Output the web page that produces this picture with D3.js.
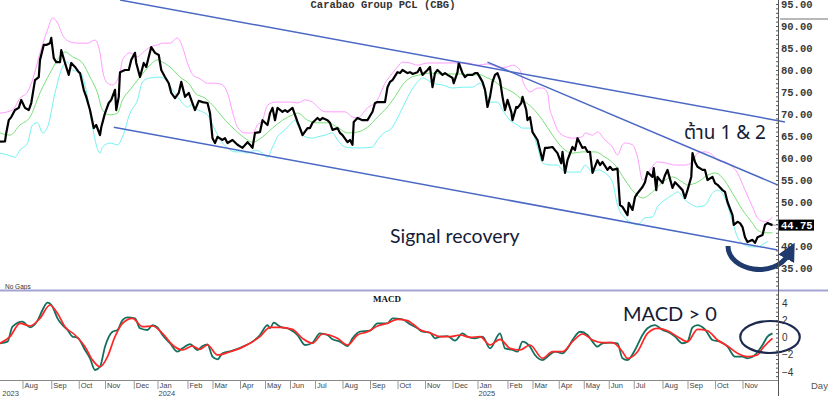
<!DOCTYPE html>
<html><head><meta charset="utf-8">
<script src="https://cdn.jsdelivr.net/npm/d3@7"></script>
<style>body{margin:0;background:#fff}svg{display:block}</style>
</head><body>
<svg id="c" width="828" height="396"></svg>
<script>
// ---------- DATA (x = trading session index, y = value) ----------
const chartTitle = "Carabao Group PCL (CBG)";
const lastClose = 44.75;
const closeSeries = [[0,63.7],[4,63.8],[5,65.7],[7,68.6],[9,69.3],[12,70.9],[15,71.4],[17,73.2],[20,71.4],[23,70.9],[25,72.5],[28,77.7],[31,78.4],[32,82.3],[35,85.7],[37,85.7],[40,86.1],[41,87.3],[43,82.7],[45,81.8],[48,81.8],[49,84.5],[52,81.6],[55,78.9],[57,81.6],[60,80.7],[63,79.5],[64,79.3],[67,75.5],[69,73.9],[72,70.9],[75,66.8],[77,67.5],[80,65.2],[81,67],[84,70.2],[87,72.5],[89,73.2],[92,75.5],[93,70.9],[95,73.9],[96,79.5],[100,80],[103,80],[105,82.3],[108,83.9],[109,81.6],[112,78.4],[115,81.6],[117,80.7],[119,83],[121,85.2],[124,83.9],[127,83.4],[129,80],[132,78.4],[135,77],[137,74.8],[140,73.6],[143,74.8],[145,77.3],[148,73.9],[151,74.8],[153,73.2],[156,70.9],[159,73],[162,72.7],[166,72.5],[168,70.2],[170,64.5],[172,63.4],[174,64.8],[178,64.1],[180,64.5],[182,63.4],[186,64.1],[190,63],[194,62.3],[198,63.6],[200,63],[202,62.3],[204,65.7],[208,65.9],[210,68.6],[214,67.5],[216,70.2],[218,71.4],[220,68.6],[222,71.4],[226,70.5],[228,70.9],[230,70.5],[234,71.4],[236,69.8],[238,68.2],[240,66.8],[242,65.2],[246,66.8],[248,66.8],[250,68],[254,69.1],[256,68.6],[258,69.1],[262,68.6],[264,68],[266,66.4],[270,66.8],[272,65.7],[274,65.2],[278,63.6],[280,64.1],[282,63],[283,68.2],[286,69.1],[290,68.6],[292,68.6],[294,68.6],[298,70.5],[300,72.5],[302,72.7],[306,72.7],[308,72.7],[310,76.1],[312,77.3],[314,77.7],[318,79.5],[320,79.3],[322,80],[326,79.3],[328,79.5],[330,79.1],[334,79.5],[336,80.5],[338,78.9],[342,80],[344,80.7],[346,76.1],[348,79.3],[350,80],[354,78.9],[356,79.3],[358,78.9],[362,78.2],[363,77],[366,79.5],[367,81.6],[370,79.3],[372,78.4],[374,78.9],[378,78.9],[380,79.3],[382,79.3],[386,77.3],[388,75.5],[390,71.6],[392,73.9],[394,77.3],[396,78.9],[398,79.3],[400,77.7],[402,73.9],[404,70.9],[406,73.2],[409,70.5],[410,68.6],[413,71.6],[414,71.4],[417,72.5],[418,73.9],[421,70.9],[422,68.6],[424,69.3],[426,65.9],[430,64.1],[432,61.8],[434,59.5],[436,62.3],[438,62.3],[442,62.5],[444,61.8],[446,61.1],[449,58.8],[450,61.4],[452,56.6],[454,59.5],[458,62.5],[460,61.8],[462,64.5],[466,62.3],[468,62.5],[470,61.4],[472,61.4],[474,56.6],[478,59.5],[480,58.4],[482,59.1],[486,57.3],[488,58],[490,57.3],[494,57.6],[496,49.3],[498,48.9],[502,47],[503,49.8],[506,48.2],[508,51.1],[510,52],[514,53.4],[516,54.5],[518,56.8],[522,55.7],[523,57.7],[525,52.7],[526,55.7],[530,54.3],[532,56.1],[534,57.3],[538,53.2],[540,54.5],[542,53.9],[546,52.7],[548,50.9],[550,52.7],[553,55.7],[554,61.1],[556,59.1],[558,58],[562,57.3],[564,57.3],[566,55],[570,55.7],[572,54.3],[574,53.9],[578,52.7],[580,52.3],[582,50],[586,47],[587,44.8],[590,45.5],[592,45.2],[594,44.3],[596,42],[598,40.9],[602,41.4],[604,40.7],[606,42],[610,42.5],[612,44.8],[614,45.2],[618,44.75]];

const upperBand = [[0,70.2],[10,70.9],[16,73.6],[22,75],[26,77.7],[32,83.9],[38,89.1],[42,91.8],[46,90.7],[50,88],[56,86.4],[62,86.1],[70,86.1],[76,86.8],[80,83.9],[82,80],[86,77],[90,76.6],[96,79.3],[98,82.3],[104,83.9],[110,83],[114,83.9],[120,85.2],[126,85.7],[130,86.1],[136,86.1],[142,87.3],[146,85.2],[150,81.6],[154,79],[160,78],[166,77],[172,77],[178,76.6],[182,74.8],[186,70.5],[190,67],[196,65.7],[202,65.7],[206,67.5],[210,68.6],[214,72],[220,72.7],[228,72.7],[234,72.7],[238,72.5],[244,73.2],[250,72.7],[254,71.6],[260,70.5],[268,70.5],[276,70.5],[282,69.3],[286,69.1],[294,71.4],[302,73.2],[308,77],[314,79.3],[318,80.7],[322,81.8],[328,81.6],[334,81.1],[342,81.6],[350,81.6],[358,81.6],[366,81.6],[374,81.6],[382,81.1],[390,81.4],[394,81.1],[400,80.5],[406,80.7],[410,81.1],[416,80],[418,77.7],[422,75.5],[424,75],[430,75.9],[434,75.9],[438,74.8],[440,70.9],[442,69.3],[446,66.4],[450,65.2],[458,64.5],[466,64.8],[468,65.7],[474,65.2],[478,65.9],[484,64.1],[490,62.5],[494,60.7],[498,63],[500,63.4],[506,63],[510,60.2],[514,55],[520,57.3],[526,59.1],[532,58.9],[540,58.4],[548,58.4],[554,59.1],[558,61.1],[564,61.4],[570,60.7],[574,59.5],[580,59.1],[586,58],[590,56.6],[596,52.7],[602,48.9],[606,46.4],[612,45.5],[618,46.6]];

const middleBand = [[0,65.7],[8,65.2],[16,67.5],[24,69.3],[32,74.8],[40,79.3],[46,82.3],[52,84.1],[58,83],[66,81.6],[72,78.4],[78,74.8],[82,70.9],[88,69.8],[94,70.2],[98,73.2],[104,75.5],[112,78.4],[120,81.1],[126,82.3],[130,81.8],[136,80.7],[144,78.4],[152,76.6],[156,74.8],[164,73.6],[172,71.4],[180,68.6],[188,66.4],[196,64.5],[202,63.6],[210,64.8],[218,66.8],[226,68.6],[234,69.8],[238,70.2],[246,68.6],[254,68],[262,68],[270,67],[278,65.7],[286,65.9],[294,67],[302,69.3],[310,71.6],[318,74.8],[322,76.6],[328,78.2],[336,78.9],[344,79.3],[352,79.1],[360,79.1],[368,79.1],[376,78.9],[384,78.9],[390,78.2],[394,77.7],[402,76.1],[410,75],[418,73.2],[426,71.4],[434,68.6],[442,65.2],[450,62.3],[458,61.1],[466,61.4],[476,61.4],[484,60.2],[492,58.4],[500,55],[508,52],[514,50.9],[522,52.3],[530,54.5],[538,55.7],[546,54.5],[550,53.9],[558,54.5],[566,56.1],[572,56.6],[578,55.5],[586,52],[594,48.2],[602,45.2],[606,43.6],[612,43],[618,43]];

const lowerBand = [[0,61.1],[6,60.7],[12,60.2],[16,61.8],[22,63.4],[26,67.5],[30,68],[34,65.7],[38,67],[44,74.8],[50,80.7],[54,81.8],[58,80],[64,79.5],[70,73.9],[74,67],[80,61.1],[82,62.5],[88,63.4],[94,63],[98,64.8],[104,70.2],[110,73.2],[114,77.3],[120,78.2],[128,78.4],[134,77.3],[138,75.5],[144,73.2],[150,71.6],[154,72.2],[156,71.4],[162,70.5],[166,69.8],[172,66.4],[178,63.4],[182,62.3],[188,61.4],[194,61.4],[198,61.1],[204,61.8],[210,61.1],[214,60.2],[218,62.5],[222,64.8],[228,66.4],[234,68.2],[236,68.6],[238,67.5],[244,64.8],[250,64.5],[254,64.8],[260,65.2],[266,65.7],[270,64.1],[276,62.5],[282,62.3],[290,62.3],[298,62.5],[302,64.1],[308,65.9],[312,66.4],[318,69.1],[322,71.4],[328,74.8],[334,77.3],[338,78.2],[346,77],[354,76.6],[362,75.9],[370,76.1],[378,76.1],[384,77],[388,75.5],[392,72.7],[398,72.7],[402,70.9],[408,68.6],[414,67.5],[418,66.8],[424,66.8],[430,62.5],[434,58.9],[440,58.4],[446,58.4],[450,57.3],[456,56.8],[464,56.8],[468,58.4],[474,56.8],[478,57.3],[484,56.6],[490,54.5],[494,49.3],[500,46.4],[506,45.2],[510,44.8],[516,46.4],[522,46.6],[526,48.9],[532,50.5],[538,51.6],[542,52.3],[548,50.5],[554,49.3],[558,48.9],[564,49.3],[570,52],[574,52.7],[580,50.9],[586,45.5],[590,42],[596,40.2],[602,39.8],[606,39.8],[612,40.7],[614,41]];

const macdLine = [[0,-0.67],[6,-0.48],[10,1.26],[18,1.84],[24,1.18],[30,1.96],[34,3.2],[38,4.05],[42,3.58],[46,2.23],[50,1.45],[54,0.87],[58,0.1],[62,-0.02],[68,-1.45],[72,-2.42],[76,-3.78],[80,-3.4],[84,-1.07],[90,0.67],[94,0.87],[98,2.03],[102,2.34],[108,2.23],[112,1.07],[118,0.87],[122,1.45],[126,1.18],[130,0.29],[136,-0.67],[142,-1.65],[146,-1.26],[152,-0.76],[158,-1.45],[162,-0.99],[166,-0.79],[170,-2.23],[174,-2.54],[178,-1.84],[186,-1.53],[194,-1.07],[202,-0.48],[208,0.29],[214,1.45],[216,1.07],[219,1.72],[224,1.26],[232,0.95],[238,0.29],[244,-0.87],[250,-0.6],[256,0.48],[262,0.29],[266,-0.21],[272,-0.48],[278,-0.99],[282,-0.1],[288,0.67],[296,0.79],[302,1.65],[310,1.65],[314,2.23],[322,2.11],[328,1.55],[334,1.07],[338,0.67],[344,0.56],[348,-0.1],[352,0.1],[358,0.17],[364,-0.37],[370,0.48],[374,0.1],[380,-0.1],[386,0.1],[392,-1.26],[400,0.48],[404,-1.26],[410,-1.45],[414,-1.65],[418,-0.48],[424,-1.07],[428,-2.03],[434,-2.62],[438,-2.23],[444,-1.65],[450,-1.84],[454,-1.26],[458,-0.29],[464,0.67],[470,0.29],[474,-0.48],[478,-1.07],[482,-0.67],[488,-0.6],[494,-0.67],[498,-2.42],[502,-2.62],[508,-1.45],[514,0.29],[518,1.07],[524,1.45],[530,0.87],[534,0.67],[540,0.1],[546,-0.67],[550,-0.48],[554,1.18],[558,1.45],[564,0.95],[570,-0.29],[576,-0.48],[582,-1.07],[588,-2.23],[594,-2.23],[598,-2.42],[604,-2.03],[610,-0.87],[614,0.1],[618,0.48]];

const signalLine = [[0,-0.67],[8,0.1],[16,1.65],[24,1.34],[32,2.23],[40,3.78],[46,2.81],[52,1.26],[60,0.29],[68,-1.07],[74,-2.62],[80,-3.4],[86,-2.23],[92,0.1],[98,1.65],[106,2.23],[114,1.26],[122,1.34],[130,0.48],[138,-0.87],[146,-1.45],[154,-0.99],[160,-1.38],[166,-0.87],[174,-2.03],[184,-1.65],[192,-1.26],[200,-0.67],[208,0.1],[216,1.18],[224,1.18],[234,0.95],[242,-0.1],[250,-0.67],[258,0.41],[270,-0.1],[278,-0.87],[286,0.29],[294,0.67],[302,1.34],[310,1.65],[318,2.11],[326,1.96],[330,1.6],[336,0.9],[344,0.56],[352,0.1],[360,0.1],[368,0.29],[376,0.02],[384,0.1],[392,-0.87],[400,-0.21],[408,-1.26],[416,-1.45],[424,-0.87],[434,-2.42],[442,-1.65],[450,-1.65],[458,-0.48],[466,0.41],[474,-0.29],[482,-0.6],[490,-0.6],[498,-1.65],[502,-2.42],[510,-1.65],[518,0.48],[526,1.07],[534,0.79],[542,0.1],[550,-0.48],[558,0.95],[566,0.79],[574,-0.29],[582,-0.99],[590,-1.84],[598,-2.23],[606,-2.03],[610,-1.26],[618,-0.1]];

// trend lines: [session, price] end points
const trendLines = [
  [[96,95.9],[628,68.2]],
  [[390,81.8],[622,53.9]],
  [[91,67.0],[622,39.1]]
];

const priceTicks = [35,40,45,50,55,60,65,70,75,80,85,90,95];
const macdTicks = [4,2,0,-2,-4];
const monthLabels = ["Aug","Sep","Oct","Nov","Dec","Jan","Feb","Mar","Apr","May","Jun","Jul","Aug","Sep","Oct","Nov","Dec","Jan","Feb","Mar","Apr","May","Jun","Jul","Aug","Sep","Oct","Nov"];
const monthSessions = [18,41,63,84,107,126,150,170,192,212,232,252,274,296,318,340,362,382,406,426,447,467,487,507,530,550,572,594];
const yearLabels = ["2023","2024","2025"];
const yearSessions = [1,126,382];

// ---------- SCALES ----------
const svg = d3.select("#c");
const AX = 778;
const x = d3.scaleLinear().domain([0,622.4]).range([0,AX]);
const yP = d3.scaleLinear().domain([30.23,95.91]).range([289,0]);
const yM = d3.scaleLinear().domain([-4.94,5.29]).range([380,292]);

const defs = svg.append("defs");
defs.append("clipPath").attr("id","cp").append("rect").attr("x",0).attr("y",0).attr("width",AX).attr("height",289);
defs.append("clipPath").attr("id","cm").append("rect").attr("x",0).attr("y",292).attr("width",AX).attr("height",88);

const lineP = d3.line().x(d=>x(d[0])).y(d=>yP(d[1]));
const lineS = d3.line().x(d=>x(d[0])).y(d=>yP(d[1])).curve(d3.curveMonotoneX);
const lineM = d3.line().x(d=>x(d[0])).y(d=>yM(d[1])).curve(d3.curveMonotoneX);

// ---------- PRICE PANEL ----------
const gp = svg.append("g").attr("clip-path","url(#cp)");
gp.append("path").datum(upperBand).attr("d",lineS).attr("fill","none").attr("stroke","#ff9cff").attr("stroke-width",1);
gp.append("path").datum(middleBand).attr("d",lineS).attr("fill","none").attr("stroke","#78e078").attr("stroke-width",1);
gp.append("path").datum(lowerBand).attr("d",lineS).attr("fill","none").attr("stroke","#74f2f2").attr("stroke-width",1);
gp.append("path").datum(closeSeries).attr("d",lineP).attr("fill","none").attr("stroke","#000").attr("stroke-width",2.2).attr("stroke-linejoin","round");

// trend lines
svg.selectAll(".tl").data(trendLines).enter().append("line")
  .attr("x1",d=>x(d[0][0])).attr("y1",d=>yP(d[0][1]))
  .attr("x2",d=>x(d[1][0])).attr("y2",d=>yP(d[1][1]))
  .attr("stroke","#4a68c4").attr("stroke-width",1.5);

// title
svg.append("text").attr("x",383).attr("y",8).attr("text-anchor","middle")
  .attr("font-family","'Liberation Mono','Courier New',monospace").attr("font-size",10.5).attr("font-weight","bold")
  .attr("fill","#333").text(chartTitle);

// last price leader
svg.append("line").attr("x1",x(closeSeries[closeSeries.length-1][0])).attr("x2",AX)
  .attr("y1",yP(lastClose)).attr("y2",yP(lastClose)).attr("stroke","#333").attr("stroke-dasharray","1,1");

// price axis
const ga = svg.append("g").attr("transform",`translate(${AX},0)`);
ga.call(d3.axisLeft(yP).tickValues(d3.range(31,96,1)).tickSize(2).tickFormat(""));
ga.call(g=>g.selectAll(".domain").remove());
const gpa = svg.append("g").attr("transform",`translate(${AX},0)`)
  .call(d3.axisRight(yP).tickValues(priceTicks).tickSize(0).tickPadding(3).tickFormat(d3.format(".2f")));
gpa.select(".domain").remove();
gpa.selectAll("text").attr("font-family","'Liberation Mono','Courier New',monospace").attr("font-size",10.5).attr("font-weight","bold").attr("fill","#3a3a3a");
gpa.selectAll(".tick").filter(d=>d===45).remove();
ga.selectAll("line").attr("stroke","#555");

// price label
svg.append("rect").attr("x",AX+1).attr("y",yP(lastClose)-5.5).attr("width",35).attr("height",11).attr("fill","#000");
svg.append("text").attr("x",AX+3).attr("y",yP(lastClose)).attr("dy","0.35em")
  .attr("font-family","'Liberation Mono','Courier New',monospace").attr("font-size",10.5).attr("font-weight","bold")
  .attr("fill","#fff").text(d3.format(".2f")(lastClose));

// gray line in axis region
svg.append("line").attr("x1",AX+2).attr("x2",828).attr("y1",19).attr("y2",19).attr("stroke","#b8b8b8").attr("stroke-width",2);

// annotations
svg.append("text").attr("x",684).attr("y",139)
  .attr("font-family","'Noto Sans Thai','Loma','Garuda','Lato','DejaVu Sans',sans-serif").attr("font-size",19).attr("fill","#141c36").text("ต้าน 1 & 2");
svg.append("text").attr("x",390).attr("y",243)
  .attr("font-family","Lato,'Open Sans',sans-serif").attr("font-size",19.5).attr("fill","#141c36").text("Signal recovery");

// curved arrow (in data coordinates)
const arrowPts = [[582.4,40.0],[582.4,34.3],[620,32.4],[631,38.2]];
const ap = d3.path();
ap.moveTo(x(arrowPts[0][0]),yP(arrowPts[0][1]));
ap.bezierCurveTo(x(arrowPts[1][0]),yP(arrowPts[1][1]),x(arrowPts[2][0]),yP(arrowPts[2][1]),x(arrowPts[3][0]),yP(arrowPts[3][1]));
defs.append("marker").attr("id","ah").attr("viewBox","0 0 10 10").attr("refX",3).attr("refY",5)
  .attr("markerWidth",3.6).attr("markerHeight",3.6).attr("orient","auto")
  .append("path").attr("d","M0,0 L10,5 L0,10 z").attr("fill","#1f3b6e");
svg.append("path").attr("d",ap.toString()).attr("fill","none").attr("stroke","#1f3b6e").attr("stroke-width",5)
  .attr("stroke-linecap","butt").attr("marker-end","url(#ah)");

// No Gaps
svg.append("text").attr("x",5).attr("y",288.5).attr("font-family","'Liberation Sans',Arial,sans-serif").attr("font-size",6.5).attr("fill","#333").text("No Gaps");

// separator
svg.append("line").attr("x1",0).attr("x2",828).attr("y1",290.5).attr("y2",290.5).attr("stroke","#a4a4d4").attr("stroke-width",2);

// ---------- MACD PANEL ----------
const gm = svg.append("g").attr("clip-path","url(#cm)");
gm.append("path").datum(macdLine).attr("d",lineM).attr("fill","none").attr("stroke","#14705e").attr("stroke-width",1.8);
gm.append("path").datum(signalLine).attr("d",lineM).attr("fill","none").attr("stroke","#ff2626").attr("stroke-width",1.7);

svg.append("text").attr("x",373).attr("y",302).attr("font-family","'Liberation Serif','Times New Roman',serif")
  .attr("font-weight","bold").attr("font-size",9).attr("fill","#111").text("MACD");

const gma = svg.append("g").attr("transform",`translate(${AX},0)`);
gma.call(d3.axisLeft(yM).tickValues(d3.range(-4.5,5.1,0.5)).tickSize(2).tickFormat(""));
gma.select(".domain").remove();
gma.selectAll("line").attr("stroke","#555");
const gml = svg.append("g").attr("transform",`translate(${AX},0)`)
  .call(d3.axisRight(yM).tickValues(macdTicks).tickSize(0).tickPadding(4).tickFormat(d=>d<0?"\u2212"+Math.abs(d):String(d)));
gml.select(".domain").remove();
gml.selectAll("text").attr("font-family","'Liberation Sans',Arial,sans-serif").attr("font-size",10).attr("fill","#333");

svg.append("text").attr("x",623).attr("y",321).attr("font-family","Lato,'Open Sans',sans-serif")
  .attr("font-size",20).attr("fill","#141c36").text("MACD > 0");

// ellipse
svg.append("ellipse").attr("cx",x(616)).attr("cy",yM(0.06))
  .attr("rx",x(616+23.8)-x(616)).attr("ry",yM(0)-yM(1.86))
  .attr("fill","none").attr("stroke","#1c2a50").attr("stroke-width",2.2);

// ---------- AXES FRAME ----------
svg.append("line").attr("x1",AX+0.5).attr("x2",AX+0.5).attr("y1",0).attr("y2",396).attr("stroke","#555").attr("stroke-width",1);
svg.append("line").attr("x1",0).attr("x2",AX).attr("y1",380.5).attr("y2",380.5).attr("stroke","#888");

const gx = svg.append("g");
gx.selectAll("line.mt").data(monthSessions).enter().append("line")
  .attr("x1",d=>x(d)+0.5).attr("x2",d=>x(d)+0.5).attr("y1",380).attr("y2",389).attr("stroke","#999");
gx.selectAll("text.ml").data(monthLabels).enter().append("text")
  .attr("x",(d,i)=>x(monthSessions[i])+2).attr("y",387.5)
  .attr("font-family","'Liberation Sans',Arial,sans-serif").attr("font-size",7.5).attr("fill","#444").text(d=>d);
gx.selectAll("text.yl").data(yearLabels).enter().append("text")
  .attr("x",(d,i)=>x(yearSessions[i])+1).attr("y",395.5)
  .attr("font-family","'Liberation Sans',Arial,sans-serif").attr("font-size",7.5).attr("fill","#444").text(d=>d);

svg.append("text").attr("x",811).attr("y",389).attr("font-family","'Liberation Sans',Arial,sans-serif")
  .attr("font-size",9.5).attr("fill","#555").text("Day");
</script>
</body></html>
